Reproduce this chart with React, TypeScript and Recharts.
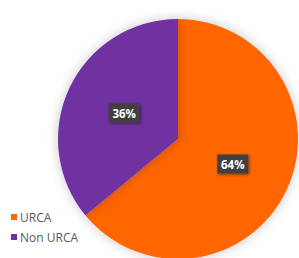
import React from "react";
import { PieChart, Pie, Cell, Legend } from "recharts";

const categories = ["URCA", "Non URCA"];
const values = [64, 36];
const colors = ["#FF6600", "#7030A0"];

const data = categories.map((name, i) => ({ name, value: values[i] }));

const RAD = Math.PI / 180;

const renderLabel = (props: any) => {
  const { cx, cy, midAngle, outerRadius, percent } = props;
  const r = outerRadius * 0.5;
  const x = cx + r * Math.cos(-midAngle * RAD);
  const y = cy + r * Math.sin(-midAngle * RAD);
  const txt = `${Math.round(percent * 100)}%`;
  return (
    <g>
      <rect x={x - 15} y={y - 10} width={31} height={19} fill="#404040" filter="url(#lblShadow)" />
      <text x={x + 0.5} y={y} fill="#ffffff" fontSize={11.5} fontWeight="bold" textAnchor="middle" dominantBaseline="central" fontFamily="'Open Sans', sans-serif">
        {txt}
      </text>
    </g>
  );
};

const renderLegend = () => (
  <div style={{ fontFamily: "'Open Sans', sans-serif", fontSize: 12, color: "#595959" }}>
    {data.map((d, i) => (
      <div key={d.name} style={{ display: "flex", alignItems: "center", height: 20 }}>
        <span style={{ display: "inline-block", width: 6, height: 6, background: colors[i], marginRight: 3 }} />
        <span>{d.name}</span>
      </div>
    ))}
  </div>
);

export default function App() {
  return (
    <div style={{ position: "absolute", left: 0, top: 0, background: "#fff" }}>
      <PieChart width={299} height={258} margin={{ top: 0, right: 0, bottom: 0, left: 0 }}>
        <defs>
          <filter id="pieShadow" x="-20%" y="-20%" width="140%" height="140%">
            <feDropShadow dx="0" dy="0" stdDeviation="6" floodColor="#000" floodOpacity="0.22" />
          </filter>
          <filter id="lblShadow" x="-30%" y="-30%" width="160%" height="160%">
            <feDropShadow dx="1" dy="1" stdDeviation="1.5" floodColor="#000" floodOpacity="0.5" />
          </filter>
        </defs>
        <Pie
          data={data}
          dataKey="value"
          nameKey="name"
          cx={178}
          cy={139}
          outerRadius={120}
          startAngle={90}
          endAngle={-270}
          stroke="none"
          label={renderLabel}
          labelLine={false}
          isAnimationActive={false}
          style={{ filter: "url(#pieShadow)" }}
        >
          {data.map((d, i) => (
            <Cell key={d.name} fill={colors[i]} />
          ))}
        </Pie>
        <Legend
          content={renderLegend}
          wrapperStyle={{ position: "absolute", left: 11, top: 207, width: 100 }}
        />
      </PieChart>
    </div>
  );
}
